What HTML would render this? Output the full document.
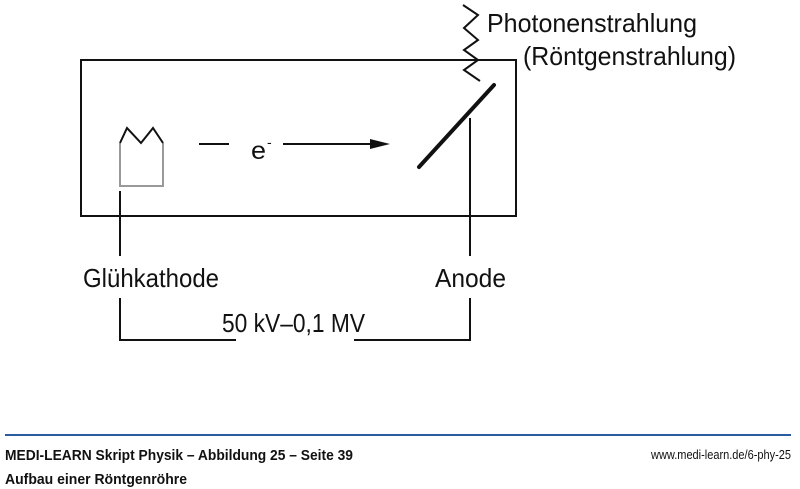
<!DOCTYPE html>
<html><head><meta charset="utf-8"><style>
html,body{margin:0;padding:0;background:#fff;}
svg{display:block;}
text{font-family:"Liberation Sans",sans-serif;fill:#111;}
</style></head><body>
<svg width="800" height="489" viewBox="0 0 800 489" xmlns="http://www.w3.org/2000/svg">
<rect x="81" y="60" width="435" height="156" fill="none" stroke="#111" stroke-width="2"/>
<polyline points="120,143 120,186 163,186 163,143" fill="none" stroke="#999" stroke-width="2"/>
<polyline points="120,143 127,128 141,143 153,128 163,143" fill="none" stroke="#111" stroke-width="2"/>
<line x1="120" y1="191" x2="120" y2="256" stroke="#111" stroke-width="2"/>
<polyline points="120,298 120,340 236,340" fill="none" stroke="#111" stroke-width="2"/>
<line x1="470" y1="118" x2="470" y2="256" stroke="#111" stroke-width="2"/>
<polyline points="354,340 470,340 470,298" fill="none" stroke="#111" stroke-width="2"/>
<line x1="199" y1="144" x2="229" y2="144" stroke="#111" stroke-width="2"/>
<line x1="283" y1="144" x2="372" y2="144" stroke="#111" stroke-width="2"/>
<polygon points="370,139 390,144 370,149" fill="#111"/>
<text x="251" y="159" font-size="25" textLength="15" lengthAdjust="spacingAndGlyphs">e</text>
<text x="267" y="147" font-size="14">-</text>
<line x1="419" y1="167" x2="494" y2="85" stroke="#111" stroke-width="4" stroke-linecap="round"/>
<polyline points="463,5 478,15 464,28 478,40 464,50 478,60 464,70 480,81" fill="none" stroke="#111" stroke-width="2"/>
<text x="487" y="32" font-size="26" textLength="210" lengthAdjust="spacingAndGlyphs">Photonenstrahlung</text>
<text x="523" y="65" font-size="26" textLength="213" lengthAdjust="spacingAndGlyphs">(Röntgenstrahlung)</text>
<text x="83" y="287" font-size="26" textLength="136" lengthAdjust="spacingAndGlyphs">Glühkathode</text>
<text x="435" y="287" font-size="26" textLength="71" lengthAdjust="spacingAndGlyphs">Anode</text>
<text x="222" y="332" font-size="26" textLength="143" lengthAdjust="spacingAndGlyphs">50 kV–0,1 MV</text>
<line x1="5" y1="435" x2="791" y2="435" stroke="#2a5aa0" stroke-width="2"/>
<text x="5" y="460" font-size="15" font-weight="bold" textLength="348" lengthAdjust="spacingAndGlyphs">MEDI-LEARN Skript Physik – Abbildung 25 – Seite 39</text>
<text x="651" y="459" font-size="13" textLength="140" lengthAdjust="spacingAndGlyphs">www.medi-learn.de/6-phy-25</text>
<text x="5" y="484" font-size="15" font-weight="bold" textLength="182" lengthAdjust="spacingAndGlyphs">Aufbau einer Röntgenröhre</text>
</svg>
</body></html>
